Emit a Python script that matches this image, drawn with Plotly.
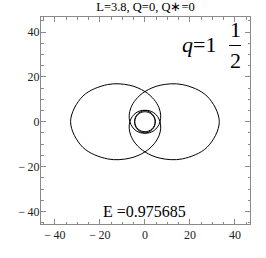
import plotly.graph_objects as go

# Orbit trace (data units), one closed period
orbit_x = [-33.05, -27.58, -16.58, -6.735, 0.0, 4.083, 6.244, 7.003, 6.71, 5.617,
           3.981, 2.028, 0.0, -1.867, -3.355, -4.296, -4.573, -4.181, -3.172, -1.709,
           0.0, 1.709, 3.172, 4.181, 4.573, 4.296, 3.355, 1.867, 0.0, -2.028,
           -3.981, -5.617, -6.71, -7.003, -6.244, -4.083, 0.0, 6.735, 16.58, 27.58,
           33.05, 27.58, 16.58, 6.735, 0.0, -4.083, -6.244, -7.003, -6.71, -5.617,
           -3.981, -2.028, 0.0, 1.867, 3.355, 4.296, 4.573, 4.181, 3.172, 1.709,
           0.0, -1.709, -3.172, -4.181, -4.573, -4.296, -3.355, -1.867, 0.0, 2.028,
           3.981, 5.617, 6.71, 7.003, 6.244, 4.083, 0.0, -6.735, -16.58, -27.58,
           -33.05]
orbit_y = [0.0, -11.42, -16.58, -16.26, -13.45, -9.858, -6.244, -2.901, 0.0, 2.327,
           3.981, 4.897, 5.06, 4.509, 3.355, 1.779, 0.0, -1.732, -3.172, -4.126,
           -4.46, -4.126, -3.172, -1.732, 0.0, 1.779, 3.355, 4.509, 5.06, 4.897,
           3.981, 2.327, 0.0, -2.901, -6.244, -9.858, -13.45, -16.26, -16.58, -11.42,
           0.0, 11.42, 16.58, 16.26, 13.45, 9.858, 6.244, 2.901, 0.0, -2.327,
           -3.981, -4.897, -5.06, -4.509, -3.355, -1.779, 0.0, 1.732, 3.172, 4.126,
           4.46, 4.126, 3.172, 1.732, 0.0, -1.779, -3.355, -4.509, -5.06, -4.897,
           -3.981, -2.327, 0.0, 2.901, 6.244, 9.858, 13.45, 16.26, 16.58, 11.42,
           0.0]

tick_vals = [-40, -20, 0, 20, 40]
tick_text = ["\u2212\u200940", "\u2212\u200920", "0", "20", "40"]

title_text = "L=3.8, Q=0, Q\u2217=0"
energy_text = "E =0.975685"

SERIF = "Liberation Serif"
FRAME = "#8a8a8a"
LABEL = "#222222"

fig = go.Figure()
fig.add_trace(go.Scatter(x=orbit_x, y=orbit_y, mode="lines",
                         line=dict(color="black", width=1, shape="spline", smoothing=1),
                         hoverinfo="skip", showlegend=False))

axis_common = dict(
    tickmode="array", tickvals=tick_vals, ticktext=tick_text,
    ticks="inside", ticklen=5, tickwidth=1, tickcolor=FRAME,
    minor=dict(dtick=5, tick0=0, ticks="inside", ticklen=2.5, tickwidth=1, tickcolor=FRAME),
    showline=True, linecolor=FRAME, linewidth=1, mirror="allticks",
    showgrid=False, zeroline=False,
    tickfont=dict(family=SERIF, size=12, color=LABEL),
)

fig.update_layout(
    width=266, height=258, autosize=False,
    margin=dict(l=41, r=16, t=17, b=34),
    paper_bgcolor="white", plot_bgcolor="white",
    font=dict(family=SERIF),
    hovermode=False,
    xaxis=dict(range=[-46.2, 46.7], **axis_common),
    yaxis=dict(range=[-45.6, 46.7], ticklabelstandoff=-2, **axis_common),
    title=dict(text=title_text, font=dict(family=SERIF, size=12.5, color="black"),
               x=0.5, xref="paper", xanchor="center",
               y=1 - 7 / 258, yref="container", yanchor="middle"),
    annotations=[
        dict(text="<i>q</i>=1", xref="paper", yref="paper", x=(218 - 41) / 209,
             y=(224 - 44.5) / 207, xanchor="right", yanchor="middle", showarrow=False,
             font=dict(family=SERIF, size=22, color="black")),
        dict(text="1", xref="paper", yref="paper", x=(235 - 41) / 209,
             y=(224 - 29.5) / 207, xanchor="center", yanchor="middle", showarrow=False,
             font=dict(family=SERIF, size=22, color="black")),
        dict(text="2", xref="paper", yref="paper", x=(235 - 41) / 209,
             y=(224 - 60.5) / 207, xanchor="center", yanchor="middle", showarrow=False,
             font=dict(family=SERIF, size=22, color="black")),
        dict(text=energy_text, xref="paper", yref="paper", x=(144.3 - 41) / 209,
             y=(224 - 211.5) / 207, xanchor="center", yanchor="middle", showarrow=False,
             font=dict(family=SERIF, size=16, color="black")),
    ],
    shapes=[
        dict(type="line", xref="paper", yref="paper",
             x0=(229 - 41) / 209, x1=(241 - 41) / 209,
             y0=(224 - 45.5) / 207, y1=(224 - 45.5) / 207,
             line=dict(color="black", width=1)),
    ],
)

fig.write_html("out.html", config={"displayModeBar": False, "staticPlot": True},
               post_script="document.body.style.margin='0';")
